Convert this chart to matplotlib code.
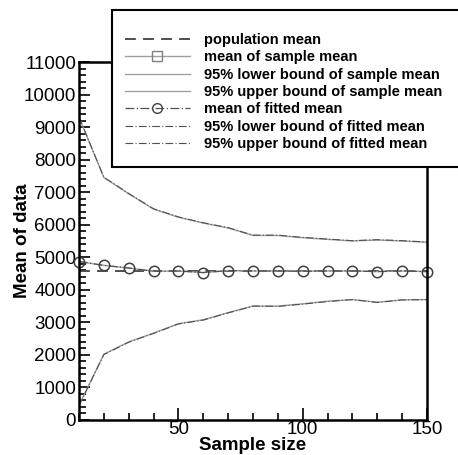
import matplotlib
matplotlib.use("Agg")
import matplotlib.pyplot as plt
from matplotlib.lines import Line2D
from matplotlib.patches import Rectangle
from matplotlib.ticker import MultipleLocator
import numpy as np

sample_size = [10, 20, 30, 40, 50, 60, 70, 80, 90, 100, 110, 120, 130, 140, 150]
population_mean = 4570
mean_sample = [4870, 4750, 4670, 4570, 4580, 4530, 4590, 4580, 4580, 4570, 4580, 4580, 4560, 4580, 4560]
lower_sample = [450, 2020, 2400, 2670, 2960, 3080, 3300, 3500, 3500, 3570, 3650, 3700, 3620, 3690, 3700]
upper_sample = [9300, 7450, 6950, 6480, 6230, 6050, 5900, 5670, 5670, 5600, 5550, 5500, 5530, 5500, 5460]
mean_fitted = [4870, 4750, 4670, 4570, 4580, 4530, 4590, 4580, 4580, 4570, 4580, 4580, 4560, 4580, 4560]
lower_fitted = [440, 2010, 2390, 2660, 2950, 3070, 3290, 3500, 3490, 3560, 3640, 3700, 3610, 3690, 3700]
upper_fitted = [9310, 7460, 6960, 6490, 6240, 6060, 5910, 5680, 5680, 5610, 5560, 5510, 5540, 5510, 5470]

labels = ["population mean", "mean of sample mean",
          "95% lower bound of sample mean", "95% upper bound of sample mean",
          "mean of fitted mean", "95% lower bound of fitted mean",
          "95% upper bound of fitted mean"]

plt.rcParams['font.family'] = ['Liberation Sans', 'DejaVu Sans']

fig = plt.figure(figsize=(4.58, 4.55), dpi=100)
ax = fig.add_axes([79/458, 1-420/455, (427-79)/458, (420-62)/455])

light = "#a0a0a0"
dark = "#505050"
dashdot = (0, (7, 2, 1, 2))
x = np.array(sample_size)

ax.plot(x, [population_mean]*len(x), color="#404040", ls=(0, (6, 4)), lw=1.3)
ax.plot(x, mean_sample, color=light, lw=1.0)
ax.plot(x, lower_sample, color=light, lw=1.0)
ax.plot(x, upper_sample, color=light, lw=1.0)
ax.plot(x, lower_fitted, color=dark, lw=0.8, ls=dashdot)
ax.plot(x, upper_fitted, color=dark, lw=0.8, ls=dashdot)
ax.plot(x, mean_fitted, color=dark, lw=0.9, ls=dashdot,
        marker='o', ms=7.5, mfc='none', mec="#404040", mew=1.1, clip_on=False)

ax.set_xlim(10, 150)
ax.set_ylim(0, 11000)
ax.xaxis.set_major_locator(MultipleLocator(50))
ax.xaxis.set_minor_locator(MultipleLocator(10))
ax.yaxis.set_major_locator(MultipleLocator(1000))
ax.yaxis.set_minor_locator(MultipleLocator(200))
ax.tick_params(axis='both', which='both', direction='in', top=False, right=False, width=1.2)
ax.tick_params(axis='x', which='major', length=9, labelsize=13.5, pad=1)
ax.tick_params(axis='x', which='minor', length=5)
ax.tick_params(axis='y', which='major', length=8, labelsize=13.5, pad=2)
ax.tick_params(axis='y', which='minor', length=5)
for sp in ax.spines.values():
    sp.set_linewidth(1.8)

ax.set_xlabel("Sample size", fontsize=13.5, fontweight='bold', labelpad=-1)
ax.set_ylabel("Mean of data", fontsize=13.5, fontweight='bold', labelpad=-5)

# legend box, runs off the right edge like the original
box = Rectangle((112/458, 1-167/455), 1.0, (167-10)/455, transform=fig.transFigure,
                facecolor='white', edgecolor='black', lw=1.5, zorder=4)
fig.patches.append(box)

handles = [
    Line2D([], [], color="#404040", ls=(0, (6, 4)), lw=1.3),
    Line2D([], [], color=light, lw=1.0, marker='s', ms=6.5, mfc='none', mec="#808080"),
    Line2D([], [], color=light, lw=1.0),
    Line2D([], [], color=light, lw=1.0),
    Line2D([], [], color=dark, lw=0.9, ls=dashdot, marker='o', ms=7,
           mfc='none', mec="#404040"),
    Line2D([], [], color=dark, lw=0.8, ls=dashdot),
    Line2D([], [], color=dark, lw=0.8, ls=dashdot),
]
leg = fig.legend(handles, labels, loc='upper left', bbox_to_anchor=(125/458, 1-33/455),
                 frameon=False, prop={'weight': 'bold', 'size': 10.5}, handlelength=4.45,
                 handletextpad=0.95, labelspacing=0.23, borderpad=0, borderaxespad=0)
leg.set_zorder(5)

fig.savefig("out.png", dpi=100)
